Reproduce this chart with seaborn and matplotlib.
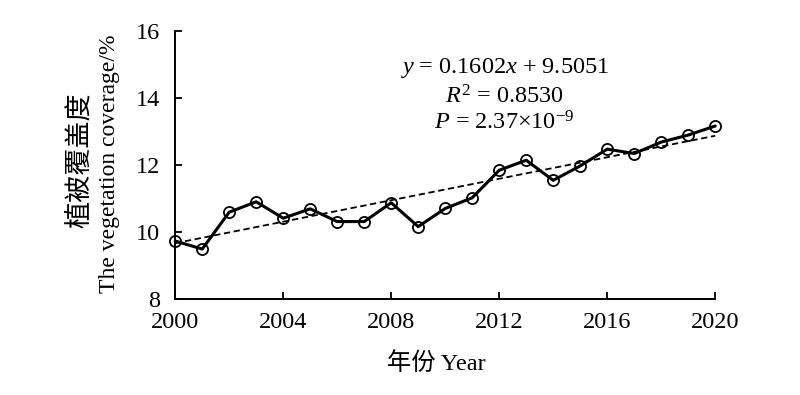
import numpy as np
import pandas as pd
import matplotlib
matplotlib.use("Agg")
import matplotlib.pyplot as plt
import seaborn as sns

# data
years = list(range(2000, 2021))
coverage = [9.73, 9.49, 10.59, 10.90, 10.41, 10.69, 10.31, 10.31, 10.87, 10.16,
            10.70, 11.02, 11.84, 12.14, 11.54, 11.97, 12.47, 12.34, 12.68, 12.89, 13.16]
slope, intercept = 0.1602, 9.5051
eq_lines = [r"$y$ = 0.1602$x$ + 9.5051", r"$R^2$ = 0.8530", r"$P$ = 2.37×10$^{-9}$"]
yticks = [8, 10, 12, 14, 16]
xticks = [2000, 2004, 2008, 2012, 2016, 2020]

sns.set_style("ticks")
plt.rcParams['font.family'] = ['Liberation Serif', 'Noto Sans CJK SC']
plt.rcParams['mathtext.fontset'] = 'custom'
plt.rcParams['mathtext.rm'] = 'Liberation Serif'
plt.rcParams['mathtext.it'] = 'Liberation Serif:italic'
plt.rcParams['text.color'] = 'black'
plt.rcParams['axes.labelcolor'] = 'black'
plt.rcParams['xtick.color'] = 'black'
plt.rcParams['ytick.color'] = 'black'
plt.rcParams['axes.edgecolor'] = 'black'

df = pd.DataFrame({"year": years, "cov": coverage})
df["trend"] = slope * (df["year"] - 1999) + intercept

fig = plt.figure(figsize=(8, 3.95), dpi=100)
ax = fig.add_axes([0.219, 0.243, 0.675, 0.679])

sns.lineplot(data=df, x="year", y="trend", ax=ax, color="black",
             linestyle=(0, (3.5, 2)), linewidth=1.3, clip_on=False)
sns.lineplot(data=df, x="year", y="cov", ax=ax, color="black", linewidth=2.2,
             marker="o", markersize=8, markerfacecolor="none",
             markeredgecolor="black", markeredgewidth=1.3, clip_on=False)

ax.set_xlim(2000, 2020)
ax.set_ylim(8, 16)
ax.set_xticks(xticks)
ax.set_yticks(yticks)
ax.tick_params(direction="in", length=5, width=1.3, labelsize=17.5)
ax.tick_params(axis="x", pad=9)
ax.tick_params(axis="y", pad=11)
for s in ["left", "bottom"]:
    ax.spines[s].set_linewidth(1.4)
sns.despine(ax=ax)

ax.set_xlabel("年份 Year", fontsize=17.5)
ax.xaxis.set_label_coords(0.483, -0.24, transform=ax.transAxes)
ax.xaxis.label.set_va("center")
ax.set_ylabel("")

# two-line y label, placed in figure pixels
fig.text(80 / 800, 1 - 160 / 395, "植被覆盖度", rotation=90, ha="center",
         va="center", fontsize=19.5)
fig.text(110 / 800, 1 - 164 / 395, "The vegetation coverage/%", rotation=90,
         ha="center", va="center", fontsize=17)

for t, yy in zip(eq_lines, [0.862, 0.755, 0.655]):
    ax.text(0.61, yy, t, transform=ax.transAxes, ha="center",
            va="center", fontsize=17.5)

fig.savefig("out.png", dpi=100)
